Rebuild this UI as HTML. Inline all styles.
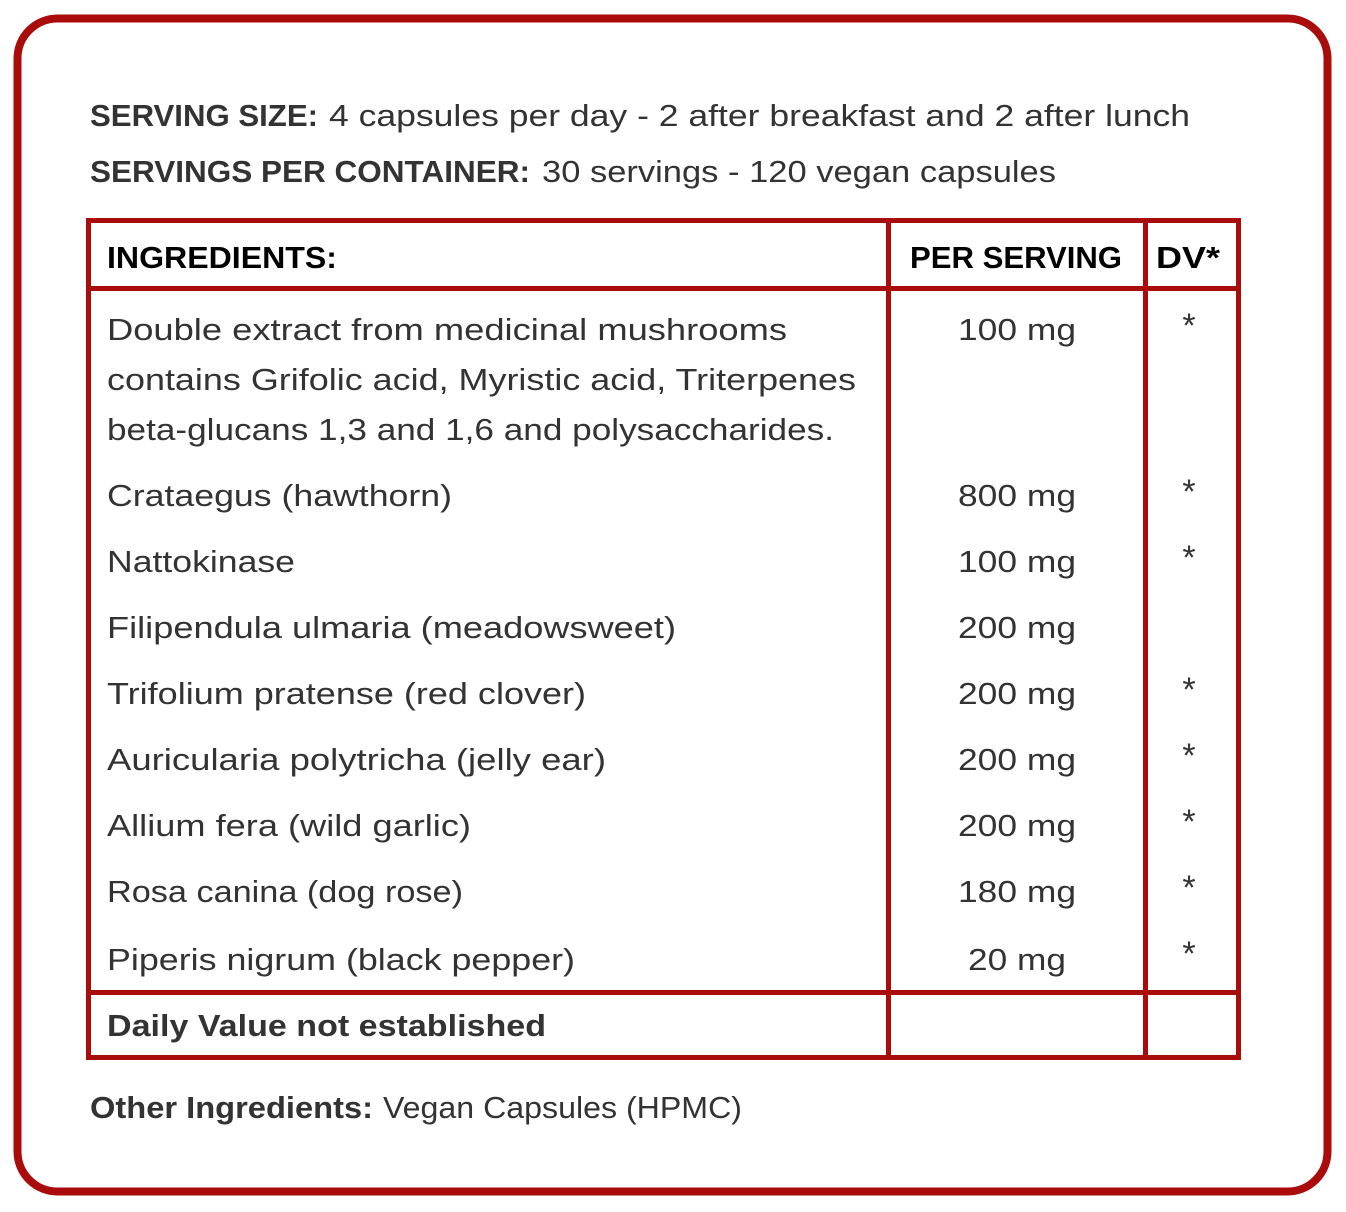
<!DOCTYPE html>
<html><head><meta charset="utf-8"><style>
html,body{margin:0;padding:0;background:#fff;}
svg{display:block;}
text{font-family:"Liberation Sans",sans-serif;font-size:31px;fill:#333;}
.b{font-weight:bold;}
.k{fill:#000;font-weight:bold;}
.s{font-size:34px;}
</style></head><body>
<svg width="1346" height="1212" viewBox="0 0 1346 1212" xmlns="http://www.w3.org/2000/svg">
<rect x="17.5" y="18.5" width="1310" height="1173" rx="40" fill="none" stroke="#aa0c0c" stroke-width="8"/>
<g fill="#aa0c0c">
<rect x="86" y="218" width="1155" height="5"/>
<rect x="86" y="286" width="1155" height="5"/>
<rect x="86" y="990" width="1155" height="5"/>
<rect x="86" y="1055" width="1155" height="5"/>
<rect x="86" y="218" width="5" height="842"/>
<rect x="886" y="218" width="5" height="842"/>
<rect x="1143" y="218" width="5" height="842"/>
<rect x="1236" y="218" width="5" height="842"/>
</g>
<text class="b" x="90" y="126" textLength="228" lengthAdjust="spacingAndGlyphs">SERVING SIZE:</text>
<text x="329" y="126" textLength="861" lengthAdjust="spacingAndGlyphs">4 capsules per day - 2 after breakfast and 2 after lunch</text>
<text class="b" x="90" y="182" textLength="440" lengthAdjust="spacingAndGlyphs">SERVINGS PER CONTAINER:</text>
<text x="542" y="182" textLength="514" lengthAdjust="spacingAndGlyphs">30 servings - 120 vegan capsules</text>
<text class="k" x="107" y="268" textLength="230" lengthAdjust="spacingAndGlyphs">INGREDIENTS:</text>
<text class="k" x="910" y="268" textLength="212" lengthAdjust="spacingAndGlyphs">PER SERVING</text>
<text class="k" x="1156" y="268" textLength="64" lengthAdjust="spacingAndGlyphs">DV*</text>
<text x="107" y="340" textLength="680" lengthAdjust="spacingAndGlyphs">Double extract from medicinal mushrooms</text>
<text x="107" y="390" textLength="749" lengthAdjust="spacingAndGlyphs">contains Grifolic acid, Myristic acid, Triterpenes</text>
<text x="107" y="440" textLength="727" lengthAdjust="spacingAndGlyphs">beta-glucans 1,3 and 1,6 and polysaccharides.</text>
<text x="107" y="506" textLength="345" lengthAdjust="spacingAndGlyphs">Crataegus (hawthorn)</text>
<text x="107" y="572" textLength="188" lengthAdjust="spacingAndGlyphs">Nattokinase</text>
<text x="107" y="638" textLength="569" lengthAdjust="spacingAndGlyphs">Filipendula ulmaria (meadowsweet)</text>
<text x="107" y="704" textLength="479" lengthAdjust="spacingAndGlyphs">Trifolium pratense (red clover)</text>
<text x="107" y="770" textLength="499" lengthAdjust="spacingAndGlyphs">Auricularia polytricha (jelly ear)</text>
<text x="107" y="836" textLength="364" lengthAdjust="spacingAndGlyphs">Allium fera (wild garlic)</text>
<text x="107" y="902" textLength="356" lengthAdjust="spacingAndGlyphs">Rosa canina (dog rose)</text>
<text x="107" y="970" textLength="468" lengthAdjust="spacingAndGlyphs">Piperis nigrum (black pepper)</text>
<text class="b" x="107" y="1036" textLength="439" lengthAdjust="spacingAndGlyphs">Daily Value not established</text>
<g>
<text x="958" y="340" textLength="118" lengthAdjust="spacingAndGlyphs">100 mg</text>
<text x="958" y="506" textLength="118" lengthAdjust="spacingAndGlyphs">800 mg</text>
<text x="958" y="572" textLength="118" lengthAdjust="spacingAndGlyphs">100 mg</text>
<text x="958" y="638" textLength="118" lengthAdjust="spacingAndGlyphs">200 mg</text>
<text x="958" y="704" textLength="118" lengthAdjust="spacingAndGlyphs">200 mg</text>
<text x="958" y="770" textLength="118" lengthAdjust="spacingAndGlyphs">200 mg</text>
<text x="958" y="836" textLength="118" lengthAdjust="spacingAndGlyphs">200 mg</text>
<text x="958" y="902" textLength="118" lengthAdjust="spacingAndGlyphs">180 mg</text>
<text x="968" y="970" textLength="98" lengthAdjust="spacingAndGlyphs">20 mg</text>
</g>
<g text-anchor="middle" class="s">
<text class="s" x="1189" y="337">*</text>
<text class="s" x="1189" y="503">*</text>
<text class="s" x="1189" y="569">*</text>
<text class="s" x="1189" y="701">*</text>
<text class="s" x="1189" y="767">*</text>
<text class="s" x="1189" y="833">*</text>
<text class="s" x="1189" y="899">*</text>
<text class="s" x="1189" y="965">*</text>
</g>
<text class="b" x="90" y="1118" textLength="283" lengthAdjust="spacingAndGlyphs">Other Ingredients:</text>
<text x="383" y="1118" textLength="359" lengthAdjust="spacingAndGlyphs">Vegan Capsules (HPMC)</text>
</svg>
</body></html>
